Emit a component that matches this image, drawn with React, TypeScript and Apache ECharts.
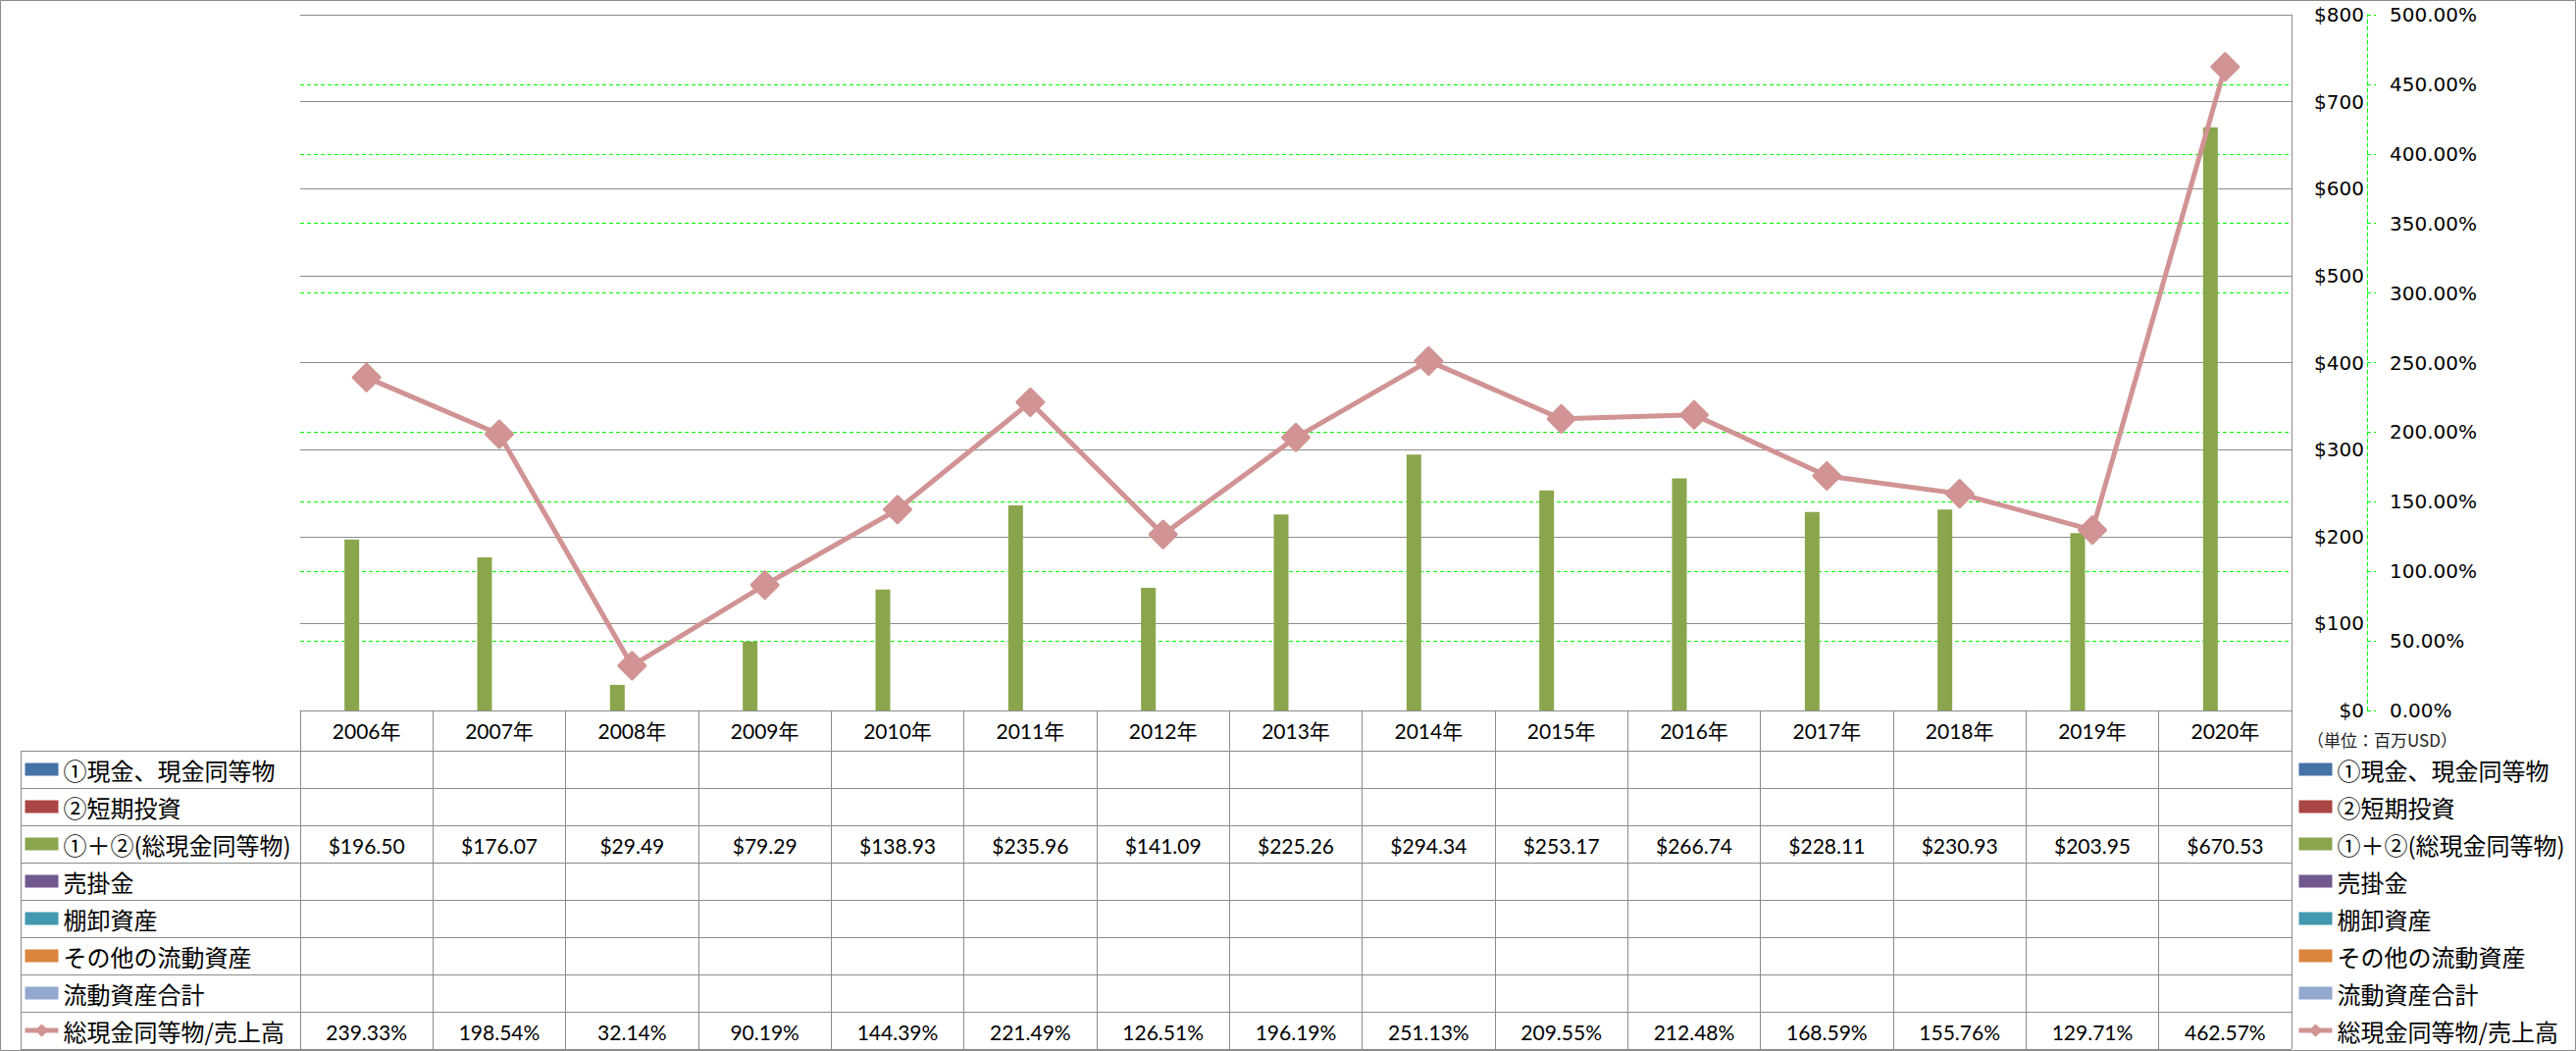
import React, { useEffect, useRef } from "react";
import * as echarts from "echarts";

const years = ["2006年", "2007年", "2008年", "2009年", "2010年", "2011年", "2012年", "2013年", "2014年", "2015年", "2016年", "2017年", "2018年", "2019年", "2020年"];
const cashTotal = [196.5, 176.07, 29.49, 79.29, 138.93, 235.96, 141.09, 225.26, 294.34, 253.17, 266.74, 228.11, 230.93, 203.95, 670.53];
const ratio = [239.33, 198.54, 32.14, 90.19, 144.39, 221.49, 126.51, 196.19, 251.13, 209.55, 212.48, 168.59, 155.76, 129.71, 462.57];
const barNames = ["①現金、現金同等物", "②短期投資", "①＋②(総現金同等物)", "売掛金", "棚卸資産", "その他の流動資産", "流動資産合計"];
const barValues: number[][] = [[], [], cashTotal, [], [], [], []];
const lineName = "総現金同等物/売上高";
const barColors = ["#4572A7", "#AA4643", "#8AA64C", "#71588F", "#4198AF", "#DB843D", "#93A9CF"];
const lineColor = "#D19393";
const leftTicks = [0, 100, 200, 300, 400, 500, 600, 700, 800];
const rightTicks = [0, 50, 100, 150, 200, 250, 300, 350, 400, 450, 500];
const unitLabel = "（単位：百万USD）";

const W = 2626;
const H = 1071;
const GRID_L = 306;
const GRID_R = 2336;
const GRID_T = 15;
const AXIS_Y = 724;
const HEAD_B = 765;
const ROW_H = 38;
const TABLE_L = 21;
const TABLE_B = HEAD_B + ROW_H * 8;
const GRAY = "#8c8c8c";
const CJK = "'Noto Sans CJK JP'";
const NUM_FONT = "Lato, 'Noto Sans CJK JP'";
const AXIS_FONT = "'DejaVu Sans', 'Noto Sans CJK JP'";

export default function App() {
  const ref = useRef<HTMLDivElement>(null);
  useEffect(() => {
    if (!ref.current) return;
    const chart = echarts.init(ref.current, null, { renderer: "svg" });
    const legendData = [
      ...barNames.map((n) => ({ name: n, icon: "rect" })),
      { name: lineName, lineStyle: { width: 5, color: lineColor }, itemStyle: { color: lineColor } },
    ];
    const legendBase = {
      orient: "vertical",
      top: HEAD_B,
      itemWidth: 34,
      itemHeight: 13,
      itemGap: 0,
      padding: 0,
      selectedMode: false,
      textStyle: { fontFamily: CJK, fontSize: 24, lineHeight: ROW_H, color: "#000" },
      data: legendData,
    };
    const option: any = {
      animation: false,
      backgroundColor: "#fff",
      legend: [
        { ...legendBase, left: 23 },
        { ...legendBase, left: 2341 },
      ],
      grid: { left: GRID_L, right: W - GRID_R, top: GRID_T, bottom: H - AXIS_Y },
      xAxis: {
        type: "category",
        data: years,
        boundaryGap: true,
        z: 1,
        axisLine: { show: true, lineStyle: { color: GRAY, width: 1 } },
        axisTick: { show: true, length: TABLE_B - AXIS_Y, lineStyle: { color: GRAY, width: 1 } },
        axisLabel: { fontFamily: NUM_FONT, fontSize: 21, color: "#000", margin: 10 },
        splitLine: { show: false },
      },
      yAxis: [
        {
          type: "value",
          position: "right",
          z: 1,
          min: leftTicks[0],
          max: leftTicks[leftTicks.length - 1],
          interval: 100,
          axisLine: { show: true, lineStyle: { color: GRAY, width: 1 } },
          axisTick: { show: false },
          axisLabel: {
            formatter: (v: number) => "$" + v,
            fontFamily: AXIS_FONT,
            fontSize: 20,
            color: "#000",
            margin: 74,
            align: "right",
          },
          splitLine: { show: true, lineStyle: { color: GRAY, width: 1 } },
        },
        {
          type: "value",
          position: "right",
          offset: 77,
          z: 0,
          min: rightTicks[0],
          max: rightTicks[rightTicks.length - 1],
          interval: 50,
          axisLine: { show: true, lineStyle: { color: "#00ff00", width: 1, type: [4, 3] } },
          axisTick: { show: true, length: 9, lineStyle: { color: "#00ff00", width: 1, type: [4, 3] } },
          axisLabel: {
            formatter: (v: number) => v.toFixed(2) + "%",
            fontFamily: AXIS_FONT,
            fontSize: 20,
            color: "#000",
            margin: 23,
          },
          splitLine: { show: true, lineStyle: { color: "#00ff00", width: 1, type: [4, 3] } },
        },
      ],
      series: [
        ...barNames.map((n, i) => ({
          name: n,
          type: "bar",
          yAxisIndex: 0,
          barWidth: 15,
          barGap: "0%",
          z: 2,
          itemStyle: { color: barColors[i] },
          data: barValues[i],
        })),
        {
          name: lineName,
          type: "line",
          yAxisIndex: 1,
          data: ratio,
          symbol: "diamond",
          symbolSize: 27,
          z: 5,
          lineStyle: { color: lineColor, width: 5 },
          itemStyle: { color: lineColor, borderColor: lineColor, borderWidth: 3, borderJoin: "round" },
        },
      ],
    };
    chart.setOption(option);

    const xs = years.map((_, i) => chart.convertToPixel({ xAxisIndex: 0 }, i) as number);
    const elements: any[] = [];
    elements.push({
      type: "rect",
      shape: { x: 0.5, y: 0.5, width: W - 1, height: H - 1 },
      style: { fill: "none", stroke: GRAY, lineWidth: 1 },
      silent: true,
    });
    for (let r = 0; r <= 8; r++) {
      const y = HEAD_B + r * ROW_H + 0.5;
      elements.push({
        type: "line",
        shape: { x1: TABLE_L, y1: y, x2: GRID_R, y2: y },
        style: { stroke: GRAY, lineWidth: 1 },
        silent: true,
      });
    }
    elements.push({
      type: "line",
      shape: { x1: TABLE_L + 0.5, y1: HEAD_B, x2: TABLE_L + 0.5, y2: TABLE_B },
      style: { stroke: GRAY, lineWidth: 1 },
      silent: true,
    });
    const rowCenter = (r: number) => HEAD_B + r * ROW_H + ROW_H / 2;
    barValues.forEach((vals, r) => {
      vals.forEach((v, i) => {
        elements.push({
          type: "text",
          x: xs[i],
          y: rowCenter(r) + 1,
          style: { text: "$" + v.toFixed(2), fontFamily: NUM_FONT, fontSize: 21, fill: "#000", align: "center", verticalAlign: "middle" },
          silent: true,
        });
      });
    });
    ratio.forEach((v, i) => {
      elements.push({
        type: "text",
        x: xs[i],
        y: rowCenter(7) + 1,
        style: { text: v.toFixed(2) + "%", fontFamily: NUM_FONT, fontSize: 21, fill: "#000", align: "center", verticalAlign: "middle" },
        silent: true,
      });
    });
    elements.push({
      type: "text",
      x: 2352,
      y: 753,
      style: { text: unitLabel, fontFamily: CJK, fontSize: 17, fill: "#222", align: "left", verticalAlign: "middle" },
      silent: true,
    });
    chart.setOption({ graphic: { elements } });
    return () => chart.dispose();
  }, []);
  return <div ref={ref} style={{ position: "absolute", left: 0, top: 0, width: W, height: H }} />;
}
